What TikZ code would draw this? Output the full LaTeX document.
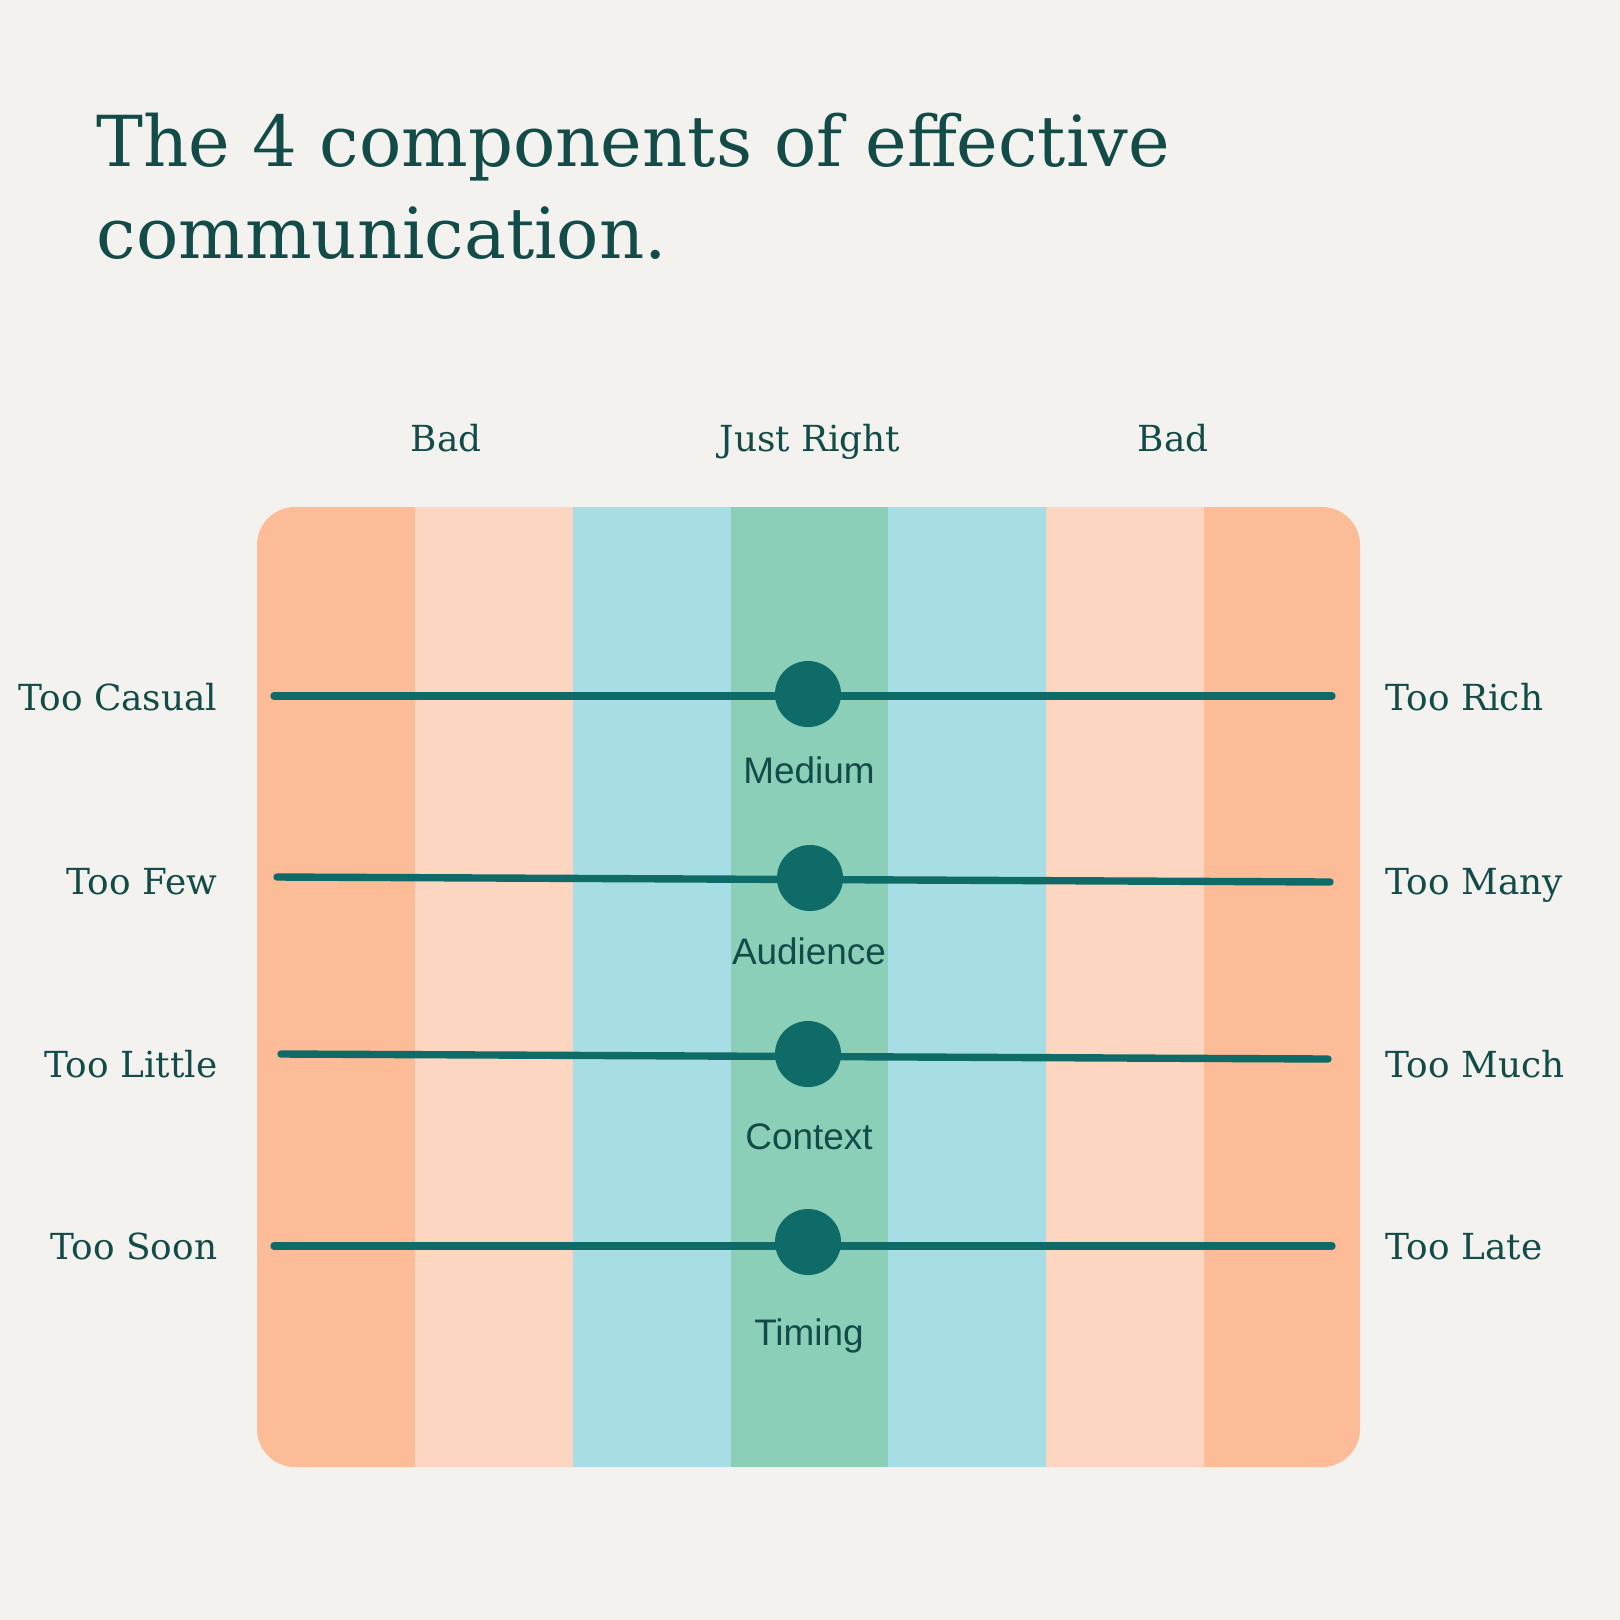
\documentclass[tikz,border=0pt]{standalone}
\usepackage{fontspec}
\setmainfont{DejaVu Serif}
\setsansfont{Liberation Sans}
\usepackage{xcolor}
\definecolor{paper}{HTML}{F3F2EE}
\definecolor{ink}{HTML}{124B48}
\definecolor{knob}{HTML}{0E6B67}
\definecolor{peach}{HTML}{FDBC98}
\definecolor{lightpeach}{HTML}{FCD6C0}
\definecolor{aqua}{HTML}{A7DEE6}
\definecolor{mint}{HTML}{8CCFB8}

\begin{document}
\begin{tikzpicture}[
    x=0.01cm, y=-0.01cm,
    title/.style={anchor=base west, inner sep=0pt, text=ink, font=\fontsize{20}{24}\selectfont},
    head/.style={anchor=base, inner sep=0pt, text=ink, font=\fontsize{10.2}{12}\selectfont},
    lside/.style={anchor=base east, inner sep=0pt, text=ink, font=\fontsize{10.2}{12}\selectfont},
    rside/.style={anchor=base west, inner sep=0pt, text=ink, font=\fontsize{10.2}{12}\selectfont},
    comp/.style={anchor=base, inner sep=0pt, text=ink, font=\sffamily\fontsize{10.5}{12}\selectfont},
    knobdot/.style={circle, fill=knob, minimum size=0.66cm, inner sep=0pt},
    slider/.style={draw=knob, line width=2.1pt, line cap=round}
]
    % Background
    \fill[paper] (0,0) rectangle (1620,1620);
    \useasboundingbox (0,0) rectangle (1620,1620);

    % Title
    \node[title] (title1) at (96,166) {The 4 components of effective};
    \node[title] (title2) at (96,258) {communication.};

    % Column headers
    \node[head] (bad1) at (446,451) {Bad};
    \node[head] (just) at (810,451) {Just Right};
    \node[head] (bad2) at (1173,451) {Bad};

    % Stripes
    \fill[peach, rounded corners=0.38cm] (257,507) rectangle (1360,1467);
    \fill[lightpeach] (415,507) rectangle (573,1467);
    \fill[aqua] (573,507) rectangle (731,1467);
    \fill[mint] (731,507) rectangle (888,1467);
    \fill[aqua] (888,507) rectangle (1046,1467);
    \fill[lightpeach] (1046,507) rectangle (1204,1467);

    % Medium
    \coordinate (l1) at (274,696);
    \coordinate (r1) at (1332,696);
    \draw[slider] (l1) -- (r1);
    \node[knobdot] (k1) at (808,694) {};
    \node[comp] (medium) at (809,783) {Medium};
    \node[lside] (casual) at (218,710) {Too Casual};
    \node[rside] (rich) at (1385,710) {Too Rich};

    % Audience
    \coordinate (l2) at (277,877);
    \coordinate (r2) at (1330,882);
    \draw[slider] (l2) -- (r2);
    \node[knobdot] (k2) at (810,878) {};
    \node[comp] (audience) at (809,964) {Audience};
    \node[lside] (few) at (218,894) {Too Few};
    \node[rside] (many) at (1385,894) {Too Many};

    % Context
    \coordinate (l3) at (281,1054);
    \coordinate (r3) at (1328,1059);
    \draw[slider] (l3) -- (r3);
    \node[knobdot] (k3) at (808,1054) {};
    \node[comp] (context) at (809,1149) {Context};
    \node[lside] (little) at (218,1077) {Too Little};
    \node[rside] (much) at (1385,1077) {Too Much};

    % Timing
    \coordinate (l4) at (274,1246);
    \coordinate (r4) at (1332,1246);
    \draw[slider] (l4) -- (r4);
    \node[knobdot] (k4) at (808,1242) {};
    \node[comp] (timing) at (809,1345) {Timing};
    \node[lside] (soon) at (218,1259) {Too Soon};
    \node[rside] (late) at (1385,1259) {Too Late};
\end{tikzpicture}
\end{document}
